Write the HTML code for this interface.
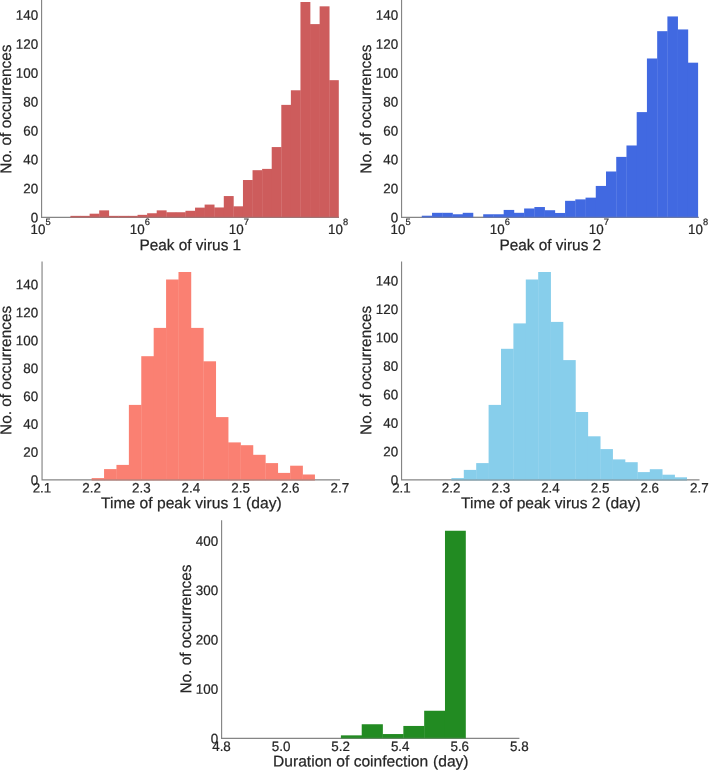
<!DOCTYPE html>
<html><head><meta charset="utf-8"><title>Histograms</title>
<style>
html,body{margin:0;padding:0;background:#ffffff;}
body{width:709px;height:770px;overflow:hidden;}
svg{display:block;will-change:transform;opacity:0.999;}
svg text{font-family:"Liberation Sans",sans-serif;fill:#262626;stroke:#262626;stroke-width:0.22px;}
</style></head>
<body>
<svg width="709" height="770" viewBox="0 0 709 770">
<rect x="0" y="0" width="709" height="770" fill="#ffffff"/>
<path d="M41.58 -1.00 V217.30 H339.00" fill="none" stroke="#858585" stroke-width="1.15" stroke-linejoin="miter"/>
<rect x="70.45" y="215.86" width="9.90" height="2.02" fill="#cd5c5c"/>
<rect x="80.03" y="215.86" width="9.90" height="2.02" fill="#cd5c5c"/>
<rect x="89.62" y="213.69" width="9.90" height="4.19" fill="#cd5c5c"/>
<rect x="99.20" y="210.36" width="9.90" height="7.51" fill="#cd5c5c"/>
<rect x="108.79" y="215.86" width="9.90" height="2.02" fill="#cd5c5c"/>
<rect x="118.37" y="215.86" width="9.90" height="2.02" fill="#cd5c5c"/>
<rect x="127.95" y="215.86" width="9.90" height="2.02" fill="#cd5c5c"/>
<rect x="137.54" y="214.84" width="9.90" height="3.03" fill="#cd5c5c"/>
<rect x="147.12" y="213.25" width="9.90" height="4.62" fill="#cd5c5c"/>
<rect x="156.71" y="210.36" width="9.90" height="7.51" fill="#cd5c5c"/>
<rect x="166.29" y="212.24" width="9.90" height="5.63" fill="#cd5c5c"/>
<rect x="175.87" y="212.24" width="9.90" height="5.63" fill="#cd5c5c"/>
<rect x="185.46" y="210.80" width="9.90" height="7.08" fill="#cd5c5c"/>
<rect x="195.04" y="207.62" width="9.90" height="10.26" fill="#cd5c5c"/>
<rect x="204.62" y="204.58" width="9.90" height="13.29" fill="#cd5c5c"/>
<rect x="214.21" y="207.47" width="9.90" height="10.40" fill="#cd5c5c"/>
<rect x="223.79" y="196.06" width="9.90" height="21.82" fill="#cd5c5c"/>
<rect x="233.38" y="206.32" width="9.90" height="11.56" fill="#cd5c5c"/>
<rect x="242.96" y="180.02" width="9.90" height="37.86" fill="#cd5c5c"/>
<rect x="252.54" y="170.19" width="9.90" height="47.68" fill="#cd5c5c"/>
<rect x="262.13" y="168.89" width="9.90" height="48.98" fill="#cd5c5c"/>
<rect x="271.71" y="147.07" width="9.90" height="70.80" fill="#cd5c5c"/>
<rect x="281.30" y="104.88" width="9.90" height="113.00" fill="#cd5c5c"/>
<rect x="290.88" y="90.28" width="9.90" height="127.59" fill="#cd5c5c"/>
<rect x="300.46" y="2.00" width="9.90" height="215.88" fill="#cd5c5c"/>
<rect x="310.05" y="24.10" width="9.90" height="193.77" fill="#cd5c5c"/>
<rect x="319.63" y="6.33" width="9.90" height="211.54" fill="#cd5c5c"/>
<rect x="329.22" y="80.17" width="9.58" height="137.71" fill="#cd5c5c"/>
<path d="M70.45 217.30 H338.80" fill="none" stroke="#858585" stroke-width="1.15" stroke-opacity="0.55"/>
<text transform="translate(38.20,222.15) rotate(0.03) scale(1,1.02)" font-size="13.4" text-anchor="end">0</text>
<text transform="translate(38.20,193.25) rotate(0.03) scale(1,1.02)" font-size="13.4" text-anchor="end">20</text>
<text transform="translate(38.20,164.35) rotate(0.03) scale(1,1.02)" font-size="13.4" text-anchor="end">40</text>
<text transform="translate(38.20,135.45) rotate(0.03) scale(1,1.02)" font-size="13.4" text-anchor="end">60</text>
<text transform="translate(38.20,106.55) rotate(0.03) scale(1,1.02)" font-size="13.4" text-anchor="end">80</text>
<text transform="translate(38.20,77.65) rotate(0.03) scale(1,1.02)" font-size="13.4" text-anchor="end">100</text>
<text transform="translate(38.20,48.75) rotate(0.03) scale(1,1.02)" font-size="13.4" text-anchor="end">120</text>
<text transform="translate(38.20,19.85) rotate(0.03) scale(1,1.02)" font-size="13.4" text-anchor="end">140</text>
<text transform="translate(11.10,109.10) rotate(-90.03) scale(1,1.015)" font-size="15.4" text-anchor="middle">No. of occurrences</text>
<text transform="translate(30.58,234.10) rotate(0.03) scale(1,1.02)" font-size="13.4" text-anchor="start">10</text>
<text transform="translate(45.58,224.90) rotate(0.03) scale(1,0.99)" font-size="9.3" text-anchor="start">5</text>
<text transform="translate(129.72,234.10) rotate(0.03) scale(1,1.02)" font-size="13.4" text-anchor="start">10</text>
<text transform="translate(144.72,224.90) rotate(0.03) scale(1,0.99)" font-size="9.3" text-anchor="start">6</text>
<text transform="translate(228.86,234.10) rotate(0.03) scale(1,1.02)" font-size="13.4" text-anchor="start">10</text>
<text transform="translate(243.86,224.90) rotate(0.03) scale(1,0.99)" font-size="9.3" text-anchor="start">7</text>
<text transform="translate(328.00,234.10) rotate(0.03) scale(1,1.02)" font-size="13.4" text-anchor="start">10</text>
<text transform="translate(343.00,224.90) rotate(0.03) scale(1,0.99)" font-size="9.3" text-anchor="start">8</text>
<text transform="translate(190.30,250.20) rotate(0.03) scale(1,1.015)" font-size="15.4" text-anchor="middle">Peak of virus 1</text>
<path d="M401.56 -1.00 V217.30 H698.80" fill="none" stroke="#858585" stroke-width="1.15" stroke-linejoin="miter"/>
<rect x="421.80" y="215.71" width="10.55" height="2.17" fill="#4169e1"/>
<rect x="432.03" y="212.81" width="10.55" height="5.06" fill="#4169e1"/>
<rect x="442.27" y="212.81" width="10.55" height="5.06" fill="#4169e1"/>
<rect x="452.50" y="214.26" width="10.55" height="3.61" fill="#4169e1"/>
<rect x="462.73" y="212.81" width="10.55" height="5.06" fill="#4169e1"/>
<rect x="483.20" y="214.26" width="10.55" height="3.61" fill="#4169e1"/>
<rect x="493.43" y="214.26" width="10.55" height="3.61" fill="#4169e1"/>
<rect x="503.67" y="209.93" width="10.55" height="7.95" fill="#4169e1"/>
<rect x="513.90" y="212.81" width="10.55" height="5.06" fill="#4169e1"/>
<rect x="524.13" y="208.48" width="10.55" height="9.39" fill="#4169e1"/>
<rect x="534.37" y="207.03" width="10.55" height="10.84" fill="#4169e1"/>
<rect x="544.60" y="210.21" width="10.55" height="7.66" fill="#4169e1"/>
<rect x="554.83" y="212.96" width="10.55" height="4.92" fill="#4169e1"/>
<rect x="565.07" y="200.82" width="10.55" height="17.05" fill="#4169e1"/>
<rect x="575.30" y="199.38" width="10.55" height="18.50" fill="#4169e1"/>
<rect x="585.53" y="197.64" width="10.55" height="20.23" fill="#4169e1"/>
<rect x="595.77" y="185.94" width="10.55" height="31.94" fill="#4169e1"/>
<rect x="606.00" y="171.49" width="10.55" height="46.39" fill="#4169e1"/>
<rect x="616.23" y="156.89" width="10.55" height="60.98" fill="#4169e1"/>
<rect x="626.47" y="145.48" width="10.55" height="72.40" fill="#4169e1"/>
<rect x="636.70" y="112.10" width="10.55" height="105.78" fill="#4169e1"/>
<rect x="646.93" y="58.49" width="10.55" height="159.39" fill="#4169e1"/>
<rect x="657.17" y="31.18" width="10.55" height="186.70" fill="#4169e1"/>
<rect x="667.40" y="16.44" width="10.55" height="201.44" fill="#4169e1"/>
<rect x="677.63" y="29.44" width="10.55" height="188.43" fill="#4169e1"/>
<rect x="687.87" y="62.68" width="10.23" height="155.20" fill="#4169e1"/>
<path d="M421.80 217.30 H698.10" fill="none" stroke="#858585" stroke-width="1.15" stroke-opacity="0.55"/>
<text transform="translate(398.20,222.15) rotate(0.03) scale(1,1.02)" font-size="13.4" text-anchor="end">0</text>
<text transform="translate(398.20,193.25) rotate(0.03) scale(1,1.02)" font-size="13.4" text-anchor="end">20</text>
<text transform="translate(398.20,164.35) rotate(0.03) scale(1,1.02)" font-size="13.4" text-anchor="end">40</text>
<text transform="translate(398.20,135.45) rotate(0.03) scale(1,1.02)" font-size="13.4" text-anchor="end">60</text>
<text transform="translate(398.20,106.55) rotate(0.03) scale(1,1.02)" font-size="13.4" text-anchor="end">80</text>
<text transform="translate(398.20,77.65) rotate(0.03) scale(1,1.02)" font-size="13.4" text-anchor="end">100</text>
<text transform="translate(398.20,48.75) rotate(0.03) scale(1,1.02)" font-size="13.4" text-anchor="end">120</text>
<text transform="translate(398.20,19.85) rotate(0.03) scale(1,1.02)" font-size="13.4" text-anchor="end">140</text>
<text transform="translate(371.10,109.10) rotate(-90.03) scale(1,1.015)" font-size="15.4" text-anchor="middle">No. of occurrences</text>
<text transform="translate(390.56,234.10) rotate(0.03) scale(1,1.02)" font-size="13.4" text-anchor="start">10</text>
<text transform="translate(405.56,224.90) rotate(0.03) scale(1,0.99)" font-size="9.3" text-anchor="start">5</text>
<text transform="translate(489.70,234.10) rotate(0.03) scale(1,1.02)" font-size="13.4" text-anchor="start">10</text>
<text transform="translate(504.70,224.90) rotate(0.03) scale(1,0.99)" font-size="9.3" text-anchor="start">6</text>
<text transform="translate(588.84,234.10) rotate(0.03) scale(1,1.02)" font-size="13.4" text-anchor="start">10</text>
<text transform="translate(603.84,224.90) rotate(0.03) scale(1,0.99)" font-size="9.3" text-anchor="start">7</text>
<text transform="translate(687.98,234.10) rotate(0.03) scale(1,1.02)" font-size="13.4" text-anchor="start">10</text>
<text transform="translate(702.98,224.90) rotate(0.03) scale(1,0.99)" font-size="9.3" text-anchor="start">8</text>
<text transform="translate(550.30,250.20) rotate(0.03) scale(1,1.015)" font-size="15.4" text-anchor="middle">Peak of virus 2</text>
<path d="M42.05 261.40 V479.80 H340.00" fill="none" stroke="#858585" stroke-width="1.15" stroke-linejoin="miter"/>
<rect x="91.65" y="478.10" width="12.73" height="2.27" fill="#fa8072"/>
<rect x="104.06" y="469.10" width="12.73" height="11.27" fill="#fa8072"/>
<rect x="116.46" y="464.90" width="12.73" height="15.48" fill="#fa8072"/>
<rect x="128.87" y="404.90" width="12.73" height="75.48" fill="#fa8072"/>
<rect x="141.27" y="356.20" width="12.73" height="124.18" fill="#fa8072"/>
<rect x="153.68" y="327.90" width="12.73" height="152.48" fill="#fa8072"/>
<rect x="166.08" y="279.50" width="12.73" height="200.88" fill="#fa8072"/>
<rect x="178.49" y="272.00" width="12.73" height="208.38" fill="#fa8072"/>
<rect x="190.89" y="327.90" width="12.73" height="152.48" fill="#fa8072"/>
<rect x="203.30" y="361.30" width="12.73" height="119.07" fill="#fa8072"/>
<rect x="215.71" y="417.10" width="12.73" height="63.27" fill="#fa8072"/>
<rect x="228.11" y="442.40" width="12.73" height="37.98" fill="#fa8072"/>
<rect x="240.52" y="445.20" width="12.73" height="35.18" fill="#fa8072"/>
<rect x="252.92" y="454.80" width="12.73" height="25.57" fill="#fa8072"/>
<rect x="265.33" y="463.10" width="12.73" height="17.27" fill="#fa8072"/>
<rect x="277.73" y="472.90" width="12.73" height="7.48" fill="#fa8072"/>
<rect x="290.14" y="465.70" width="12.73" height="14.68" fill="#fa8072"/>
<rect x="302.54" y="474.50" width="12.41" height="5.88" fill="#fa8072"/>
<path d="M91.65 479.80 H314.95" fill="none" stroke="#858585" stroke-width="1.15" stroke-opacity="0.55"/>
<text transform="translate(38.20,484.65) rotate(0.03) scale(1,1.02)" font-size="13.4" text-anchor="end">0</text>
<text transform="translate(38.20,456.75) rotate(0.03) scale(1,1.02)" font-size="13.4" text-anchor="end">20</text>
<text transform="translate(38.20,428.85) rotate(0.03) scale(1,1.02)" font-size="13.4" text-anchor="end">40</text>
<text transform="translate(38.20,400.95) rotate(0.03) scale(1,1.02)" font-size="13.4" text-anchor="end">60</text>
<text transform="translate(38.20,373.05) rotate(0.03) scale(1,1.02)" font-size="13.4" text-anchor="end">80</text>
<text transform="translate(38.20,345.15) rotate(0.03) scale(1,1.02)" font-size="13.4" text-anchor="end">100</text>
<text transform="translate(38.20,317.25) rotate(0.03) scale(1,1.02)" font-size="13.4" text-anchor="end">120</text>
<text transform="translate(38.20,289.35) rotate(0.03) scale(1,1.02)" font-size="13.4" text-anchor="end">140</text>
<text transform="translate(11.10,370.40) rotate(-90.03) scale(1,1.015)" font-size="15.4" text-anchor="middle">No. of occurrences</text>
<text transform="translate(41.95,492.50) rotate(0.03) scale(1,1.02)" font-size="13.4" text-anchor="middle">2.1</text>
<text transform="translate(91.61,492.50) rotate(0.03) scale(1,1.02)" font-size="13.4" text-anchor="middle">2.2</text>
<text transform="translate(141.27,492.50) rotate(0.03) scale(1,1.02)" font-size="13.4" text-anchor="middle">2.3</text>
<text transform="translate(190.92,492.50) rotate(0.03) scale(1,1.02)" font-size="13.4" text-anchor="middle">2.4</text>
<text transform="translate(240.58,492.50) rotate(0.03) scale(1,1.02)" font-size="13.4" text-anchor="middle">2.5</text>
<text transform="translate(290.24,492.50) rotate(0.03) scale(1,1.02)" font-size="13.4" text-anchor="middle">2.6</text>
<text transform="translate(339.90,492.50) rotate(0.03) scale(1,1.02)" font-size="13.4" text-anchor="middle">2.7</text>
<text transform="translate(191.40,508.30) rotate(0.03) scale(1,1.0)" font-size="15.65" text-anchor="middle">Time of peak virus 1<tspan dx="0.5"> (day)</tspan></text>
<path d="M401.56 261.60 V479.80 H699.50" fill="none" stroke="#858585" stroke-width="1.15" stroke-linejoin="miter"/>
<rect x="451.40" y="478.10" width="12.72" height="2.27" fill="#87ceeb"/>
<rect x="463.80" y="469.90" width="12.72" height="10.48" fill="#87ceeb"/>
<rect x="476.20" y="463.10" width="12.72" height="17.27" fill="#87ceeb"/>
<rect x="488.60" y="404.90" width="12.72" height="75.48" fill="#87ceeb"/>
<rect x="501.00" y="348.80" width="12.72" height="131.58" fill="#87ceeb"/>
<rect x="513.40" y="323.40" width="12.72" height="156.98" fill="#87ceeb"/>
<rect x="525.80" y="279.50" width="12.72" height="200.88" fill="#87ceeb"/>
<rect x="538.20" y="272.00" width="12.72" height="208.38" fill="#87ceeb"/>
<rect x="550.60" y="321.90" width="12.72" height="158.48" fill="#87ceeb"/>
<rect x="563.00" y="360.10" width="12.72" height="120.27" fill="#87ceeb"/>
<rect x="575.40" y="412.00" width="12.72" height="68.38" fill="#87ceeb"/>
<rect x="587.80" y="436.30" width="12.72" height="44.07" fill="#87ceeb"/>
<rect x="600.20" y="449.10" width="12.72" height="31.27" fill="#87ceeb"/>
<rect x="612.60" y="459.40" width="12.72" height="20.98" fill="#87ceeb"/>
<rect x="625.00" y="462.20" width="12.72" height="18.18" fill="#87ceeb"/>
<rect x="637.40" y="472.10" width="12.72" height="8.27" fill="#87ceeb"/>
<rect x="649.80" y="469.20" width="12.72" height="11.18" fill="#87ceeb"/>
<rect x="662.20" y="474.70" width="12.72" height="5.68" fill="#87ceeb"/>
<rect x="674.60" y="477.30" width="12.40" height="3.07" fill="#87ceeb"/>
<path d="M451.40 479.80 H687.00" fill="none" stroke="#858585" stroke-width="1.15" stroke-opacity="0.55"/>
<text transform="translate(398.20,484.65) rotate(0.03) scale(1,1.02)" font-size="13.4" text-anchor="end">0</text>
<text transform="translate(398.20,456.20) rotate(0.03) scale(1,1.02)" font-size="13.4" text-anchor="end">20</text>
<text transform="translate(398.20,427.74) rotate(0.03) scale(1,1.02)" font-size="13.4" text-anchor="end">40</text>
<text transform="translate(398.20,399.29) rotate(0.03) scale(1,1.02)" font-size="13.4" text-anchor="end">60</text>
<text transform="translate(398.20,370.83) rotate(0.03) scale(1,1.02)" font-size="13.4" text-anchor="end">80</text>
<text transform="translate(398.20,342.38) rotate(0.03) scale(1,1.02)" font-size="13.4" text-anchor="end">100</text>
<text transform="translate(398.20,313.93) rotate(0.03) scale(1,1.02)" font-size="13.4" text-anchor="end">120</text>
<text transform="translate(398.20,285.47) rotate(0.03) scale(1,1.02)" font-size="13.4" text-anchor="end">140</text>
<text transform="translate(371.10,370.40) rotate(-90.03) scale(1,1.015)" font-size="15.4" text-anchor="middle">No. of occurrences</text>
<text transform="translate(401.46,492.50) rotate(0.03) scale(1,1.02)" font-size="13.4" text-anchor="middle">2.1</text>
<text transform="translate(451.12,492.50) rotate(0.03) scale(1,1.02)" font-size="13.4" text-anchor="middle">2.2</text>
<text transform="translate(500.77,492.50) rotate(0.03) scale(1,1.02)" font-size="13.4" text-anchor="middle">2.3</text>
<text transform="translate(550.43,492.50) rotate(0.03) scale(1,1.02)" font-size="13.4" text-anchor="middle">2.4</text>
<text transform="translate(600.09,492.50) rotate(0.03) scale(1,1.02)" font-size="13.4" text-anchor="middle">2.5</text>
<text transform="translate(649.74,492.50) rotate(0.03) scale(1,1.02)" font-size="13.4" text-anchor="middle">2.6</text>
<text transform="translate(699.40,492.50) rotate(0.03) scale(1,1.02)" font-size="13.4" text-anchor="middle">2.7</text>
<text transform="translate(550.90,508.30) rotate(0.03) scale(1,1.0)" font-size="15.55" text-anchor="middle">Time of peak virus 2<tspan dx="0.5"> (day)</tspan></text>
<path d="M221.60 520.20 V738.30 H519.40" fill="none" stroke="#858585" stroke-width="1.15" stroke-linejoin="miter"/>
<rect x="340.90" y="735.35" width="21.14" height="3.52" fill="#228b22"/>
<rect x="361.72" y="724.25" width="21.14" height="14.62" fill="#228b22"/>
<rect x="382.53" y="734.05" width="21.14" height="4.83" fill="#228b22"/>
<rect x="403.35" y="725.95" width="21.14" height="12.92" fill="#228b22"/>
<rect x="424.17" y="710.75" width="21.14" height="28.12" fill="#228b22"/>
<rect x="444.98" y="530.75" width="20.82" height="208.12" fill="#228b22"/>
<path d="M340.90 738.30 H465.80" fill="none" stroke="#858585" stroke-width="1.15" stroke-opacity="0.55"/>
<text transform="translate(218.20,743.15) rotate(0.03) scale(1,1.02)" font-size="13.4" text-anchor="end">0</text>
<text transform="translate(218.20,693.78) rotate(0.03) scale(1,1.02)" font-size="13.4" text-anchor="end">100</text>
<text transform="translate(218.20,644.41) rotate(0.03) scale(1,1.02)" font-size="13.4" text-anchor="end">200</text>
<text transform="translate(218.20,595.04) rotate(0.03) scale(1,1.02)" font-size="13.4" text-anchor="end">300</text>
<text transform="translate(218.20,545.67) rotate(0.03) scale(1,1.02)" font-size="13.4" text-anchor="end">400</text>
<text transform="translate(191.10,629.00) rotate(-90.03) scale(1,1.015)" font-size="15.4" text-anchor="middle">No. of occurrences</text>
<text transform="translate(221.50,751.00) rotate(0.03) scale(1,1.02)" font-size="13.4" text-anchor="middle">4.8</text>
<text transform="translate(281.06,751.00) rotate(0.03) scale(1,1.02)" font-size="13.4" text-anchor="middle">5.0</text>
<text transform="translate(340.62,751.00) rotate(0.03) scale(1,1.02)" font-size="13.4" text-anchor="middle">5.2</text>
<text transform="translate(400.18,751.00) rotate(0.03) scale(1,1.02)" font-size="13.4" text-anchor="middle">5.4</text>
<text transform="translate(459.74,751.00) rotate(0.03) scale(1,1.02)" font-size="13.4" text-anchor="middle">5.6</text>
<text transform="translate(519.30,751.00) rotate(0.03) scale(1,1.02)" font-size="13.4" text-anchor="middle">5.8</text>
<text transform="translate(370.80,766.50) rotate(0.03) scale(1,1.0)" font-size="15.6" text-anchor="middle">Duration of coinfection<tspan dx="0.5"> (day)</tspan></text>
</svg>
</body></html>
